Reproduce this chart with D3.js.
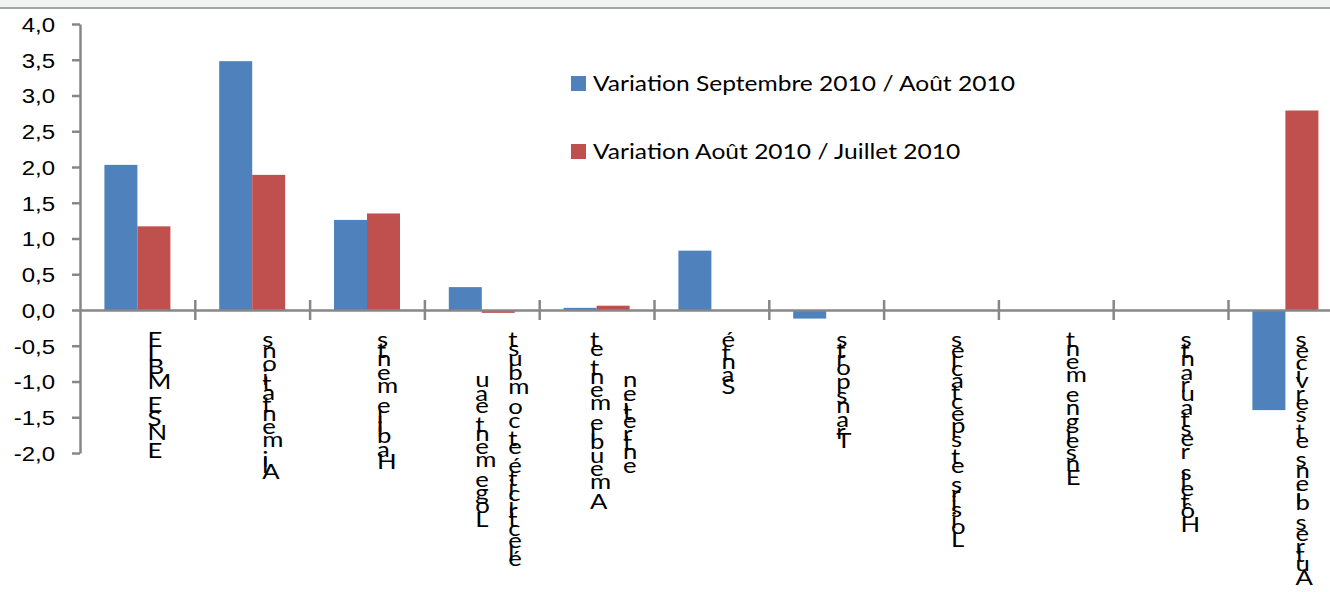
<!DOCTYPE html>
<html>
<head>
<meta charset="utf-8">
<script src="https://cdn.jsdelivr.net/npm/d3@7"></script>
<style>
  body { margin: 0; background: #fff; }
  svg { display: block; font-family: Lato, "Noto Sans", sans-serif; }
</style>
</head>
<body>
<svg id="chart" width="1330" height="592"></svg>
<script>

// categories, wrapped the way the labels are wrapped in the picture
var categoryLines = [
    ['ENSEMBLE'],
    ['Alimentations'],
    ['Habillements'],
    ['Logement eau', 'électricité et combust'],
    ['Ameublement et', 'entretien'],
    ['Santé'],
    ['Transports'],
    ['Loisirs et spectacles'],
    ['Enseignement'],
    ['Hôtels, restaurants'],
    ['Autres biens et services']
];
var categories = categoryLines.map(function (d) { return d.join(' '); });

var seriesNames = [
    'Variation Septembre 2010 / Août 2010',
    'Variation Août 2010 / Juillet 2010'
];
var septAout = [2.03, 3.48, 1.26, 0.32, 0.03, 0.83, -0.12, 0, 0, 0, -1.40];
var aoutJuillet = [1.17, 1.89, 1.35, -0.04, 0.06, 0, 0, 0, 0, 0, 2.79];

var yTicks = [-2, -1.5, -1, -0.5, 0, 0.5, 1, 1.5, 2, 2.5, 3, 3.5, 4];

var colors = ['#4f81bd', '#c0504d'];
var axisColor = '#878787';
var sx = 1.17;   // the picture is a bit wider than tall, text included

var svg = d3.select('#chart');

var plotLeft = 80, plotTop = 24, plotBottom = 453, bandW = 114.8, barW = 33;

var x0 = d3.scaleBand()
    .domain(categories)
    .range([plotLeft, plotLeft + categories.length * bandW]);

var x1 = d3.scaleBand()
    .domain(seriesNames)
    .range([bandW / 2 - barW, bandW / 2 + barW]);

var y = d3.scaleLinear()
    .domain([-2, 4])
    .range([plotBottom, plotTop]);

var fmt = d3.formatLocale({
    decimal: ',', thousands: ' ', grouping: [3], currency: ['', '€'], minus: '-'
}).format('.1f');

// top frame strip
svg.append('rect')
    .attr('x', 0).attr('y', 0)
    .attr('width', 1330).attr('height', 7)
    .attr('fill', '#f1f3f3');
svg.append('line')
    .attr('x1', 0).attr('x2', 1330)
    .attr('y1', 8).attr('y2', 8)
    .attr('stroke', '#a3a3a3')
    .attr('stroke-width', 2);

// bars
var rows = categories.map(function (c, i) {
    return { cat: c, values: [septAout[i], aoutJuillet[i]] };
});

var groups = svg.append('g').selectAll('g')
    .data(rows)
    .enter().append('g')
    .attr('transform', function (d) { return 'translate(' + x0(d.cat) + ',0)'; });

groups.selectAll('rect')
    .data(function (d) {
        return d.values.map(function (v, k) { return { s: seriesNames[k], v: v, k: k }; });
    })
    .enter().append('rect')
    .attr('x', function (d) { return x1(d.s); })
    .attr('width', x1.bandwidth())
    .attr('y', function (d) { return y(Math.max(0, d.v)); })
    .attr('height', function (d) { return Math.abs(y(d.v) - y(0)); })
    .attr('fill', function (d) { return colors[d.k]; });

// y axis
var yAxis = svg.append('g')
    .attr('transform', 'translate(' + plotLeft + ',0)')
    .call(d3.axisLeft(y).tickValues(yTicks).tickSize(8).tickSizeOuter(0).tickFormat(''));

yAxis.select('.domain').attr('stroke', axisColor).attr('stroke-width', 2.5);
yAxis.selectAll('.tick line').attr('stroke', axisColor).attr('stroke-width', 2.5);

yAxis.selectAll('.tick').append('g')
    .attr('transform', 'translate(-25,0) scale(' + sx + ',1)')
    .append('text')
    .attr('text-anchor', 'end')
    .attr('dy', '0.36em')
    .attr('font-size', 20.5)
    .attr('fill', '#000')
    .text(function (d) { return fmt(d); });

// category axis on the zero line, ticks between categories crossing it
var xi = d3.scaleLinear()
    .domain([0, categories.length])
    .range(x0.range());

var xAxis = svg.append('g')
    .attr('transform', 'translate(0,' + y(0) + ')')
    .call(d3.axisBottom(xi).tickValues(d3.range(1, categories.length + 1))
        .tickSize(10).tickSizeOuter(0).tickFormat(''));

xAxis.select('.domain').attr('stroke', axisColor).attr('stroke-width', 2.5);
xAxis.selectAll('.tick line')
    .attr('y1', -10)
    .attr('stroke', axisColor)
    .attr('stroke-width', 2.5);

// category labels: upright letters stacked from bottom to top
var glyphSize = 22, capH = 16, labelTop = 331, lineGap = 33, advScale = 1.11;

var probe = svg.append('text').attr('font-size', glyphSize);
function advance(ch) {
    if (ch === ' ') {
        probe.text('a a');
        var w = probe.node().getComputedTextLength();
        probe.text('aa');
        return (w - probe.node().getComputedTextLength()) * advScale;
    }
    probe.text(ch);
    return probe.node().getComputedTextLength() * advScale;
}

var labels = svg.append('g');

categoryLines.forEach(function (lines, i) {
    var cx = x0(categories[i]) + x0.bandwidth() / 2;
    var widths = lines.map(function (line) {
        return line.split('').map(advance);
    });
    var lengths = widths.map(function (w) { return d3.sum(w); });
    var maxL = d3.max(lengths);

    lines.forEach(function (line, k) {
        var colX = cx + 10 + (k - (lines.length - 1) / 2) * lineGap;
        var lineTop = labelTop + (maxL - lengths[k]) / 2;
        var col = labels.append('g')
            .attr('transform', 'translate(' + colX + ',0) scale(' + sx + ',1)');
        var cum = 0;
        line.split('').forEach(function (ch, j) {
            cum += widths[k][j];
            if (ch === ' ') return;
            col.append('text')
                .attr('x', 0)
                .attr('y', lineTop + lengths[k] - cum + capH)
                .attr('font-size', glyphSize)
                .attr('fill', '#000')
                .text(ch);
        });
    });
});

probe.remove();

// legend
var legend = svg.append('g').selectAll('g')
    .data(seriesNames)
    .enter().append('g')
    .attr('transform', function (d, i) { return 'translate(571,' + (76 + i * 68) + ')'; });

legend.append('rect')
    .attr('width', 15).attr('height', 15)
    .attr('fill', function (d, i) { return colors[i]; });

legend.append('g')
    .attr('transform', 'translate(22,15) scale(' + sx + ',1)')
    .append('text')
    .attr('font-size', 21)
    .attr('fill', '#000')
    .text(function (d) { return d; });

</script>
</body>
</html>
